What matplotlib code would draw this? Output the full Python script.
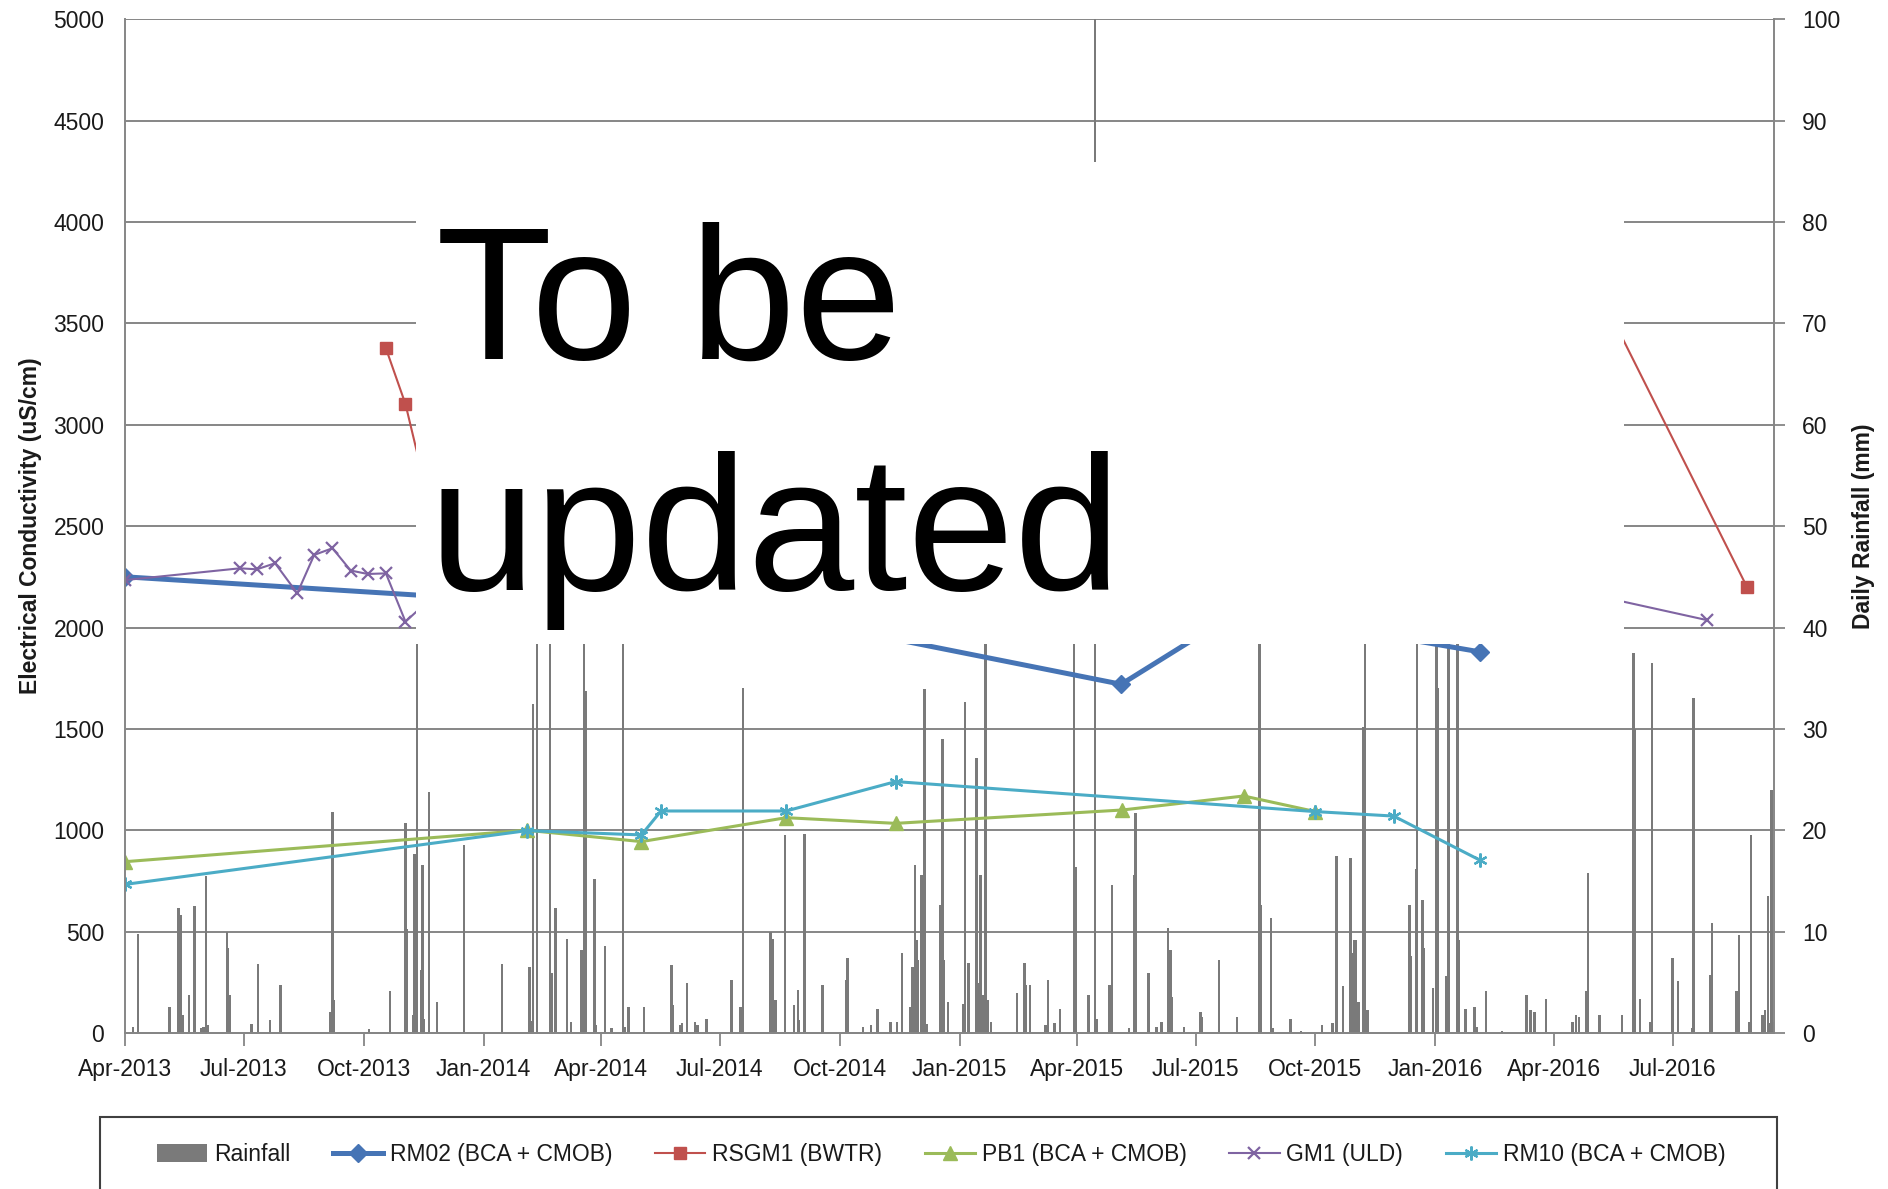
import numpy as np
import matplotlib
matplotlib.use('Agg')
import matplotlib.pyplot as plt
import matplotlib.dates as mdates
from matplotlib.patches import Rectangle

plt.rcParams['font.family'] = ['Liberation Sans', 'DejaVu Sans']

# axis range (daily rainfall record starts 1 Apr 2013)
start = np.datetime64('2013-04-01')
end = start + np.timedelta64(1265, 'D')

# daily rainfall (mm), day number counted from 1 Apr 2013
rain_day = [6, 10, 34, 41, 43, 44, 49, 53, 58, 60, 62, 63, 78, 79, 80, 97, 102, 111, 119,
            157, 159, 160, 187, 203, 215, 216, 221, 222, 224, 227, 228, 229, 233, 239, 260,
            289, 310, 312, 313, 316, 326, 327, 330, 339, 342, 350, 352, 353, 360, 361, 368,
            373, 382, 383, 386, 398, 419, 420, 426, 427, 431, 437, 439, 446, 465, 472, 474,
            495, 497, 499, 506, 513, 516, 517, 521, 535, 553, 554, 566, 572, 577, 587, 592,
            596, 602, 604, 606, 607, 608, 611, 613, 615, 625, 627, 628, 631, 643, 644, 647,
            653, 654, 656, 658, 660, 662, 664, 684, 690, 691, 694, 706, 708, 713, 717, 728,
            729, 739, 744, 745, 755, 757, 770, 774, 775, 785, 791, 795, 800, 802, 803, 812,
            825, 826, 839, 853, 870, 871, 879, 880, 894, 902, 918, 926, 929, 934, 940, 941,
            943, 944, 946, 950, 951, 953, 985, 986, 990, 991, 995, 996, 1003, 1006, 1007,
            1013, 1015, 1022, 1023, 1028, 1035, 1037, 1044, 1056, 1075, 1078, 1081, 1090,
            1110, 1113, 1115, 1121, 1122, 1131, 1148, 1157, 1158, 1162, 1170, 1171, 1187,
            1191, 1202, 1203, 1216, 1217, 1236, 1238, 1246, 1247, 1256, 1258, 1260, 1262,
            1263, 1264]
rain_mm = [0.6, 9.8, 2.6, 12.3, 11.6, 1.8, 3.7, 12.5, 0.5, 0.6, 15.5, 0.8, 10.0, 8.4, 3.7, 0.9, 6.8, 1.3, 4.7,
           2.1, 21.8, 3.3, 0.4, 4.1, 20.7, 10.3, 1.8, 17.7, 74, 6.2, 16.6, 1.4, 23.8, 3.1, 18.5,
           6.8, 6.5, 1.2, 32.5, 60, 45, 5.9, 12.3, 9.3, 1.1, 8.2, 65, 33.7, 15.2, 0.8, 8.6,
           0.5, 50, 0.6, 2.6, 2.6, 6.7, 2.8, 0.8, 1.0, 4.9, 1.1, 0.8, 1.4, 5.2, 2.6, 34,
           10.0, 9.3, 3.3, 19.5, 2.8, 4.2, 1.3, 19.6, 4.7, 5.2, 7.4, 0.6, 0.8, 2.4, 1.1, 1.1,
           7.9, 2.6, 6.5, 16.6, 9.2, 7.2, 15.6, 33.9, 0.9, 12.6, 29, 7.2, 3.1, 2.9, 32.7, 6.9,
           27.1, 4.9, 15.6, 3.7, 55, 3.3, 1.1, 3.9, 6.9, 4.7, 4.7, 0.8, 5.2, 1.0, 2.4, 70,
           16.4, 3.7, 130, 1.4, 4.7, 14.6, 0.5, 15.6, 21.7, 5.9, 0.6, 1.1, 10.4, 8.2, 3.6, 0.6,
           2.1, 1.6, 7.2, 1.6, 60, 12.6, 11.3, 0.5, 1.4, 0.2, 0.8, 1.0, 17.5, 4.6, 17.3, 7.9,
           9.2, 9.2, 3.1, 30.2, 45, 2.3, 12.6, 7.6, 16.2, 80, 13.1, 8.4, 4.4, 50, 34,
           5.6, 42, 48, 9.2, 2.4, 2.6, 0.6, 4.1, 0.2, 3.7, 2.3, 2.1, 3.4,
           1.1, 1.8, 1.6, 4.1, 15.8, 1.8, 1.8, 37.5, 30, 3.4, 1.1, 36.5, 7.4,
           5.1, 0.5, 33.0, 5.7, 10.9, 4.1, 9.7, 1.1, 19.5, 1.8, 2.3, 13.5, 1.0,
           24, 1.1]

# electrical conductivity (uS/cm)
rm02_dates = ['2013-04-01', '2014-08-24', '2015-05-05', '2015-08-04', '2016-02-04']
rm02_ec = [2250, 2045, 1720, 2084, 1880]

rsgm1_dates = ['2013-10-18', '2013-11-02', '2013-11-17', '2016-04-05', '2016-08-27']
rsgm1_ec = [3377, 3102, 2700, 4050, 2200]

pb1_dates = ['2013-04-01', '2014-02-03', '2014-05-02', '2014-08-21', '2014-11-13',
             '2015-05-06', '2015-08-07', '2015-10-01']
pb1_ec = [845, 1000, 944, 1062, 1034, 1100, 1169, 1092]

gm1_dates = ['2013-04-01', '2013-06-28', '2013-07-11', '2013-07-25', '2013-08-11', '2013-08-24',
             '2013-09-07', '2013-09-21', '2013-10-04', '2013-10-18', '2013-11-02', '2013-11-16',
             '2016-02-18', '2016-07-27']
gm1_ec = [2234, 2292, 2287, 2317, 2169, 2358, 2391, 2281, 2264, 2267, 2029, 2111, 2264, 2037]

rm10_dates = ['2013-04-01', '2014-02-03', '2014-05-02', '2014-05-17', '2014-08-21', '2014-11-13',
              '2015-10-01', '2015-11-30', '2016-02-04']
rm10_ec = [733, 998, 977, 1095, 1095, 1240, 1092, 1070, 853]

gridc = '#868686'
txtc = '#1a1a1a'

fig = plt.figure(figsize=(18.88, 11.89), dpi=100)
ax = fig.add_axes([0.0663, 0.1312, 0.8735, 0.8526])
ax2 = ax.twinx()

rain_dates = start + np.array(rain_day).astype('timedelta64[D]')
ax2.bar(rain_dates, rain_mm, width=1.9, color='#7a7a7a', linewidth=0, label='Rainfall')
ax2.set_ylim(0, 100)
ax2.set_yticks(range(0, 101, 10))
ax2.grid(axis='y', color=gridc, lw=1.4)
ax2.set_axisbelow(True)

d = lambda s: np.array(s, dtype='datetime64[D]')
ax.plot(d(rm02_dates), rm02_ec, color='#4674b5', lw=3.6, marker='D', ms=9, label='RM02 (BCA + CMOB)')
ax.plot(d(rsgm1_dates), rsgm1_ec, color='#c0504d', lw=1.5, marker='s', ms=9, label='RSGM1 (BWTR)')
ax.plot(d(pb1_dates), pb1_ec, color='#9bbb59', lw=2.2, marker='^', ms=10, label='PB1 (BCA + CMOB)')
ax.plot(d(gm1_dates), gm1_ec, color='#7f64a2', lw=1.5, marker='x', ms=8, mew=1.6, label='GM1 (ULD)')
ax.plot(d(rm10_dates), rm10_ec, color='#4bacc6', lw=2.2, marker=(6, 2, 0), ms=10, mew=1.6,
        label='RM10 (BCA + CMOB)')
ax.set_ylim(0, 5000)
ax.set_yticks(range(0, 5001, 500))
ax.set_xlim(start, end)
ax.set_zorder(ax2.get_zorder() + 1)
ax.patch.set_visible(False)

ax.xaxis.set_major_locator(mdates.MonthLocator(bymonth=[1, 4, 7, 10]))
ax.xaxis.set_major_formatter(mdates.DateFormatter('%b-%Y'))

ax.tick_params(axis='x', direction='out', length=9, width=1.3, color=gridc, pad=9,
               labelsize=16.5, labelcolor=txtc)
ax.tick_params(axis='y', length=0, pad=15, labelsize=16.5, labelcolor=txtc)
ax2.tick_params(axis='y', direction='out', length=8, width=1.3, color=gridc, pad=12,
                labelsize=16.5, labelcolor=txtc)

for a in (ax, ax2):
    for s in a.spines.values():
        s.set_color(gridc)
        s.set_linewidth(1.4)
ax.spines['top'].set_visible(False)
ax.spines['right'].set_visible(False)
ax2.spines['left'].set_visible(False)
ax2.spines['top'].set_visible(False)

ax.set_ylabel('Electrical Conductivity (uS/cm)', fontsize=16.5, fontweight='bold', color=txtc)
ax.yaxis.set_label_coords(-0.0505, 0.5)
ax2.set_ylabel('Daily Rainfall (mm)', fontsize=16.5, fontweight='bold', color=txtc)
ax2.yaxis.set_label_coords(1.0472, 0.5)

# white placeholder box over the middle of the chart
fig.add_artist(Rectangle((0.2203, 0.4584), 0.8602 - 0.2203, 0.8638 - 0.4584,
                         transform=fig.transFigure, facecolor='white', edgecolor='none', zorder=2))
fig.text(0.2309, 0.698, 'To be', fontsize=137, va='baseline', color='black', zorder=3)
fig.text(0.2272, 0.5038, 'updated', fontsize=138, va='baseline', color='black', zorder=3)

h1, l1 = ax2.get_legend_handles_labels()
h2, l2 = ax.get_legend_handles_labels()
fig.legend(h1 + h2, l1 + l2, loc='center', bbox_to_anchor=(0.4985, 0.0290), ncol=6,
           frameon=False, fontsize=16.5, handlelength=2.2, handleheight=0.8, handletextpad=0.3,
           columnspacing=1.85, labelcolor=txtc)
fig.add_artist(Rectangle((100 / 1888, -0.01), 1677 / 1888, 0.0606 + 0.01,
                         transform=fig.transFigure, fill=False, edgecolor='#404040', lw=1.5))

fig.savefig('out.png', dpi=100)
